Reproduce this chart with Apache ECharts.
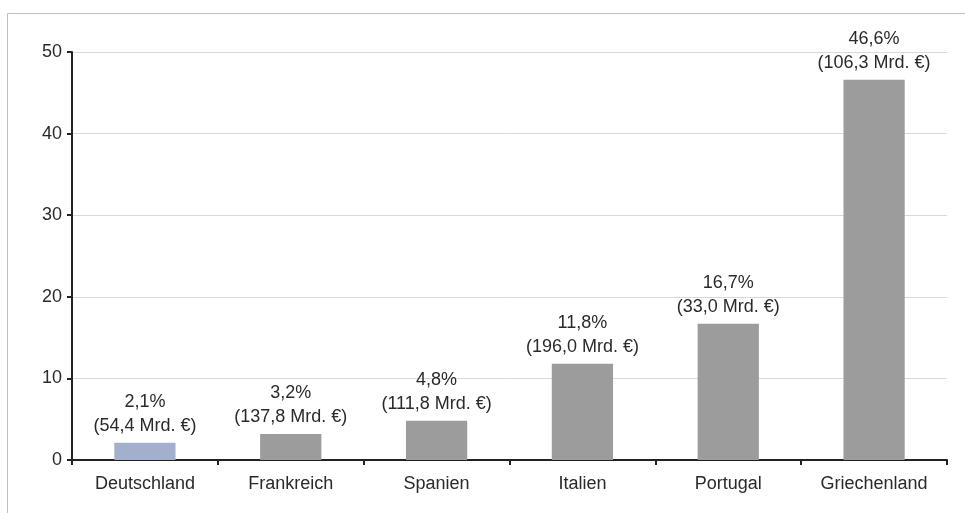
<!DOCTYPE html>
<html><head><meta charset="utf-8">
<script src="https://cdn.jsdelivr.net/npm/echarts@6/dist/echarts.min.js"></script>
<style>html,body{margin:0;padding:0;background:#fff}#c{width:965px;height:513px}</style>
</head><body><div id="c"></div>
<script>
const categories = ['Deutschland','Frankreich','Spanien','Italien','Portugal','Griechenland'];
const percentValues = [2.1, 3.2, 4.8, 11.8, 16.7, 46.6];
const amountLabels = ['54,4','137,8','111,8','196,0','33,0','106,3'];
const yTicks = {min: 0, max: 50, interval: 10};
const highlightColor = '#a2afcd';
const barColor = '#9c9c9c';

const chart = echarts.init(document.getElementById('c'), null, {renderer: 'canvas'});
const font = '"Liberation Sans", Helvetica, Arial, sans-serif';
chart.setOption({
  animation: false,
  backgroundColor: '#fff',
  graphic: [
    {type: 'line', shape: {x1: 7.5, y1: 13.5, x2: 965, y2: 13.5}, style: {stroke: '#b3bfd8', lineWidth: 1}},
    {type: 'line', shape: {x1: 7.5, y1: 13.5, x2: 7.5, y2: 513}, style: {stroke: '#b3bfd8', lineWidth: 1}}
  ],
  grid: {left: 72, right: 18, top: 52, bottom: 53, containLabel: false},
  xAxis: {
    type: 'category', data: categories,
    axisLine: {lineStyle: {color: '#222', width: 2}},
    axisTick: {show: true, length: 5, lineStyle: {color: '#222', width: 2}},
    axisLabel: {color: '#2a2a2a', fontSize: 18, fontFamily: font, margin: 15}
  },
  yAxis: {
    type: 'value', min: yTicks.min, max: yTicks.max, interval: yTicks.interval,
    axisLine: {show: true, lineStyle: {color: '#222', width: 2}},
    axisTick: {show: true, length: 5, lineStyle: {color: '#222', width: 2}},
    axisLabel: {color: '#2a2a2a', fontSize: 18, fontFamily: font, margin: 10},
    splitLine: {lineStyle: {color: '#d9d9d9', width: 1}}
  },
  series: [{
    type: 'bar', barWidth: '42%',
    data: percentValues.map((v, i) => ({value: v, itemStyle: {color: i === 0 ? highlightColor : barColor}})),
    label: {
      show: true, position: 'top', distance: 5, color: '#2a2a2a', fontSize: 18, fontFamily: font, lineHeight: 24,
      formatter: p => String(percentValues[p.dataIndex]).replace('.', ',') + '%\n(' + amountLabels[p.dataIndex] + ' Mrd. €)'
    }
  }]
});
</script></body></html>
